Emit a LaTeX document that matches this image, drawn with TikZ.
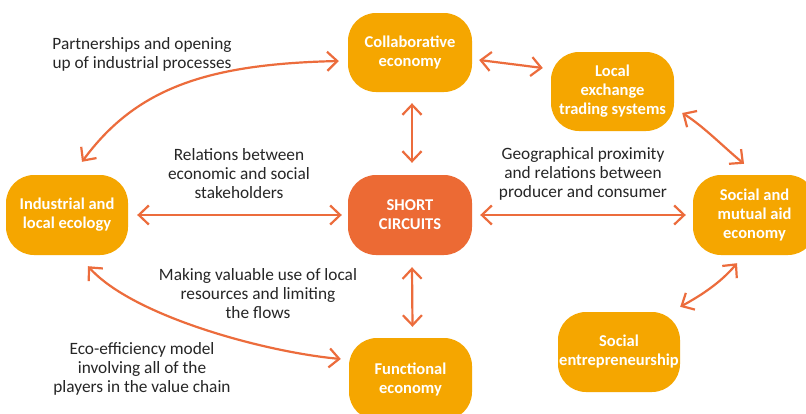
\documentclass[tikz,border=0pt]{standalone}
\usepackage{fontspec}
\setmainfont{Carlito}
\usetikzlibrary{arrows.meta,calc}
\definecolor{boxorange}{RGB}{245,166,0}
\definecolor{hubred}{RGB}{236,106,52}
\definecolor{arrowred}{RGB}{236,108,60}
\tikzset{
  ecobox/.style={rectangle, rounded corners=28pt, fill=boxorange, draw=none,
    text=white, font=\fontsize{16.5}{19}\selectfont\bfseries, align=center,
    inner sep=0pt},
  hubbox/.style={ecobox, fill=hubred},
  linktext/.style={font=\fontsize{17.3}{19}\selectfont, align=center, text=black!85, inner sep=0pt},
  link/.style={draw=arrowred, line width=2.2pt,
    {Straight Barb[length=10pt,width=19pt,line width=2.2pt]}-{Straight Barb[length=10pt,width=19pt,line width=2.2pt]}}
}
\begin{document}
\begin{tikzpicture}[x=1pt,y=-1pt]
\useasboundingbox (0,0) rectangle (806,413);
\fill[white] (0,0) rectangle (806,413);
\clip (0,0) rectangle (806,413);

\node[ecobox, minimum width=124pt, minimum height=79pt] (collab) at (410,52.5) {Collaborative\\economy};
\node[ecobox, minimum width=123pt, minimum height=79pt] (lets) at (612.5,91.5) {Local\\exchange\\trading systems};
\node[ecobox, minimum width=122pt, minimum height=80pt] (indus) at (67,215) {Industrial and\\local ecology};
\node[hubbox, minimum width=124pt, minimum height=80pt] (short) at (410,215) {SHORT\\CIRCUITS};
\node[ecobox, minimum width=123pt, minimum height=80pt] (social) at (754.5,215) {Social and\\mutual aid\\economy};
\node[ecobox, minimum width=123pt, minimum height=82pt] (func) at (410.5,379) {Functional\\economy};
\node[ecobox, minimum width=122pt, minimum height=80pt] (entre) at (619,352) {Social\\entrepreneurship};

% straight links
\draw[link] ($(collab.south)+(2,11)$) -- ($(short.north)+(2,-12)$);
\draw[link] ($(short.south)+(2,12)$) -- ($(func.north)+(2,-11)$);
\draw[link] ($(indus.east)+(9,0)$) -- ($(short.west)+(-6,0)$);
\draw[link] ($(short.east)+(8,0)$) -- ($(social.west)+(-7,0)$);
\draw[link] ($(collab.east)+(7,7.5)$) -- ($(lets.west)+(-8,-23.5)$);

% curved links
\draw[link] ($(indus.north)+(15,-13)$) .. controls +(55,-75) and +(-129,3) .. ($(collab.west)+(-9,8.5)$);
\draw[link] ($(indus.south)+(21,11)$) .. controls +(45,50) and +(-76,-7) .. ($(func.west)+(-8,-20)$);
\draw[link] ($(lets.east)+(8,21.5)$) .. controls +(21,13) and +(-19.5,-16) .. ($(social.north)+(-10.5,-11)$);
\draw[link] ($(social.south)+(-17.5,8)$) .. controls +(-16,19) and +(22,-12) .. ($(entre.north east)+(0,-5)$);

% labels
\node[linktext] (lpart) at (142,54) {Partnerships and opening\\up of industrial processes};
\node[linktext] (lrel) at (239,174) {Relations between\\economic and social\\stakeholders};
\node[linktext] (lgeo) at (583,174) {Geographical proximity\\and relations between\\producer and consumer};
\node[linktext] (lmak) at (258,294) {Making valuable use of local\\resources and limiting\\the flows};
\node[linktext] (leco) at (142,369) {Eco-efficiency model\\involving all of the\\players in the value chain};
\end{tikzpicture}
\end{document}
